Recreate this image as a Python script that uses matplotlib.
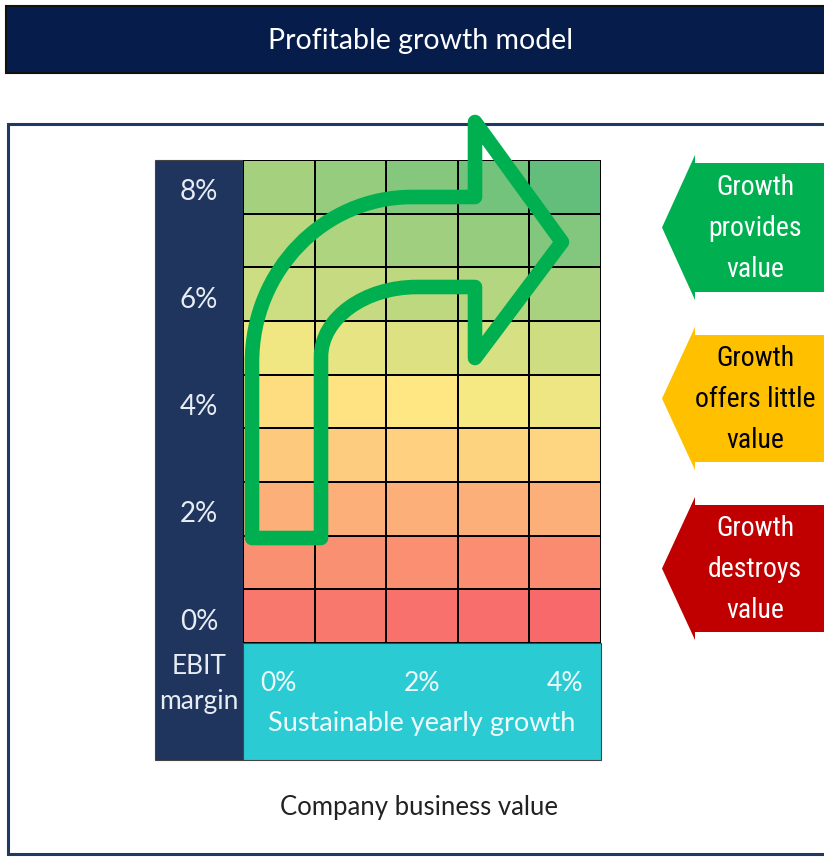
import numpy as np
import matplotlib
matplotlib.use("Agg")
import matplotlib.pyplot as plt
from matplotlib import font_manager
from matplotlib.colors import LinearSegmentedColormap
from matplotlib.patches import Rectangle, Polygon, PathPatch
from matplotlib.path import Path
from matplotlib.transforms import blended_transform_factory

# --- data ---
TITLE = "Profitable growth model"
FOOTER = "Company business value"
GROWTH_LABELS = ["0%", "2%", "4%"]          # under columns 0, 2, 4
MARGIN_LABELS = ["0%", "2%", "4%", "6%", "8%"]  # next to rows 0, 2, 4, 6, 8
# colour score of each cell (0 = red, 0.5 = yellow, 1 = green), rows bottom -> top
VALUE_SCORE = [
    [0.06, 0.06, 0.035, 0.02, 0.00],
    [0.15, 0.15, 0.146, 0.138, 0.13],
    [0.27, 0.27, 0.27, 0.273, 0.273],
    [0.37, 0.38, 0.396, 0.41, 0.415],
    [0.446, 0.47, 0.49, 0.529, 0.551],
    [0.548, 0.577, 0.606, 0.625, 0.654],
    [0.657, 0.683, 0.71, 0.737, 0.779],
    [0.715, 0.756, 0.804, 0.837, 0.90],
    [0.788, 0.837, 0.888, 0.942, 1.00],
]
ZONE_TEXT = ["Growth\nprovides\nvalue", "Growth\noffers little\nvalue", "Growth\ndestroys\nvalue"]
ZONE_COLOR = ["#00B050", "#FFC000", "#C00000"]
ZONE_TEXT_COLOR = ["white", "black", "white"]

W, H = 824, 857

names = {f.name for f in font_manager.fontManager.ttflist}
def pick(*cands):
    for c in cands:
        if c in names:
            return c
    return "DejaVu Sans"

GEO = pick("Century Gothic", "URW Gothic", "Lato", "Open Sans")
NARROW = pick("Liberation Sans Narrow", "Arial Narrow", "Roboto Condensed", "Liberation Sans")
narrow_ok = NARROW != "Liberation Sans"

fig = plt.figure(figsize=(W / 100, H / 100), dpi=100)
bg = fig.add_axes([0, 0, 1, 1])
bg.set_xlim(0, W)
bg.set_ylim(H, 0)
bg.axis("off")

# title bar
bg.add_patch(Rectangle((6, 6), 830, 67, facecolor="#061D4B", edgecolor="#111111", lw=1.5))
bg.text(421, 41, TITLE, color="white", fontsize=20.5, family=GEO, ha="center", va="center")

# outer frame
bg.add_patch(Rectangle((8, 124), 830, 730, facecolor="white", edgecolor="#1F3864", lw=2.2))

# grid block: navy column + cyan strip
x0, x1, y_top, y_grid, y_bot = 155, 601, 160, 643, 760
bg.add_patch(Rectangle((x0, y_top), 243 - x0, y_bot - y_top, facecolor="#1F355E",
                       edgecolor="#444444", lw=0.8))
bg.add_patch(Rectangle((243, y_grid), x1 - 243, y_bot - y_grid, facecolor="#2BCBD4",
                       edgecolor="#444444", lw=0.8))
bg.text(199, 684, "EBIT\nmargin", color="#E8ECF3", fontsize=19, family=GEO,
        ha="center", va="center", linespacing=1.45)

bg.text(419, 808, FOOTER, color="#222222", fontsize=18.5, family=GEO, ha="center", va="center")

# heat map axes over the grid area
ax = fig.add_axes([243 / W, 1 - y_grid / H, (x1 - 243) / W, (y_grid - y_top) / H])
cmap = LinearSegmentedColormap.from_list("excel3", ["#F8696B", "#FFEB84", "#63BE7B"])
score = np.array(VALUE_SCORE)
nrow, ncol = score.shape
ax.pcolormesh(np.arange(ncol + 1), np.arange(nrow + 1), score, cmap=cmap, vmin=0, vmax=1,
              edgecolors="black", linewidth=1.4)
ax.set_xlim(0, ncol)
ax.set_ylim(0, nrow)
ax.axis("off")

lab_tr = blended_transform_factory(ax.transAxes, ax.transData)
for k, lab in enumerate(MARGIN_LABELS):
    ax.text(-0.123, 2 * k + 0.4, lab, transform=lab_tr, color="#E8ECF3", fontsize=20,
            family=GEO, ha="center", va="center", clip_on=False)
for k, lab in enumerate(GROWTH_LABELS):
    ax.text(2 * k + 0.5, -0.75, lab, color="#EEFAFB", fontsize=19, family=GEO,
            ha="center", va="center", clip_on=False)
ax.text(ncol / 2, -1.5, "Sustainable yearly growth", color="#EEFAFB", fontsize=19.5,
        family=GEO, ha="center", va="center", clip_on=False)

# bent green arrow (outline), pixel coordinates of the background axes
k = 0.5523
verts = [
    (252, 538), (252, 362),
    (252, 362 - k * 165), (412 - k * 160, 197), (412, 197),
    (475, 197), (475, 122), (562, 242), (475, 358), (475, 287), (417, 287),
    (417 - k * 95, 287), (321, 357 - k * 70), (321, 357),
    (321, 538), (252, 538),
]
codes = [Path.MOVETO, Path.LINETO,
         Path.CURVE4, Path.CURVE4, Path.CURVE4,
         Path.LINETO, Path.LINETO, Path.LINETO, Path.LINETO, Path.LINETO, Path.LINETO,
         Path.CURVE4, Path.CURVE4, Path.CURVE4,
         Path.LINETO, Path.CLOSEPOLY]
arrow = PathPatch(Path(verts, codes), facecolor="none", edgecolor="#00B050", lw=10.5,
                  joinstyle="round", transform=bg.transData, clip_on=False, zorder=5)
ax.add_patch(arrow)

# zone arrows on the right
tip_x, neck_x, right_x = 662, 695, 840
bodies = [(163, 292), (335, 462), (505, 632)]
zfont = 20 if narrow_ok else 17
for (top, bot), txt, col, tcol in zip(bodies, ZONE_TEXT, ZONE_COLOR, ZONE_TEXT_COLOR):
    mid = (top + bot) / 2
    poly = [(tip_x, mid), (neck_x, top - 8), (neck_x, top), (right_x, top),
            (right_x, bot), (neck_x, bot), (neck_x, bot + 8)]
    bg.add_patch(Polygon(poly, closed=True, facecolor=col, edgecolor="none"))
    bg.text(755, mid + 1, txt, color=tcol, fontsize=zfont, family=NARROW,
            ha="center", va="center", linespacing=1.65)

fig.savefig("out.png", dpi=100)
